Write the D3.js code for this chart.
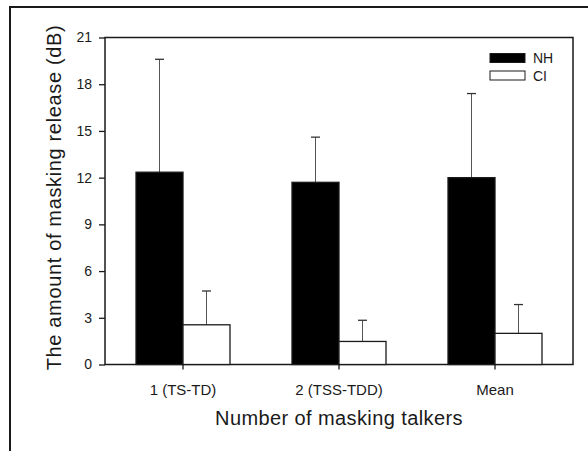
<!DOCTYPE html>
<html>
<head>
<meta charset="utf-8">
<script src="https://cdn.jsdelivr.net/npm/d3@7.9.0/dist/d3.min.js"></script>
<style>
  body { margin: 0; background: #fff; }
  svg { display: block; font-family: Arial, "Liberation Sans", sans-serif; }
</style>
</head>
<body>
<svg width="588" height="451"></svg>
<script>
const categories = ['1 (TS-TD)', '2 (TSS-TDD)', 'Mean'];
const seriesNames = ['NH', 'CI'];
const nhMean = [12.35, 11.7, 12.0];
const nhErr = [19.6, 14.6, 17.4];
const ciMean = [2.55, 1.48, 2.0];
const ciErr = [4.72, 2.84, 3.85];
const yTicks = [0, 3, 6, 9, 12, 15, 18, 21];

const svg = d3.select('svg');
const ink = '#1a1a1a';

// outer frame, cut off at right and bottom like the reference
svg.append('rect')
  .attr('x', 10).attr('y', 7)
  .attr('width', 600).attr('height', 470)
  .attr('fill', 'none').attr('stroke', ink).attr('stroke-width', 2);

const plotL = 105, plotR = 573, plotT = 37.5, plotB = 364.5;

let x = d3.scaleBand().domain(categories).range([plotL, plotR]).padding(0);
let y = d3.scaleLinear().domain([0, 21]).range([plotB, plotT]);
const barW = 47;

// plot box
svg.append('rect')
  .attr('x', plotL).attr('y', plotT)
  .attr('width', plotR - plotL).attr('height', plotB - plotT)
  .attr('fill', 'none').attr('stroke', ink).attr('stroke-width', 1.5);

let series = [
  { name: seriesNames[0], mean: nhMean, err: nhErr, fill: '#000', off: -barW },
  { name: seriesNames[1], mean: ciMean, err: ciErr, fill: '#fff', off: 0 },
];

series.forEach((s) => {
  categories.forEach((c, i) => {
    let cx = x(c) + x.bandwidth() / 2 + s.off;
    let mid = cx + barW / 2;
    // error bar (upper only)
    svg.append('line')
      .attr('x1', mid).attr('x2', mid)
      .attr('y1', y(s.mean[i])).attr('y2', y(s.err[i]))
      .attr('stroke', '#555').attr('stroke-width', 1);
    svg.append('line')
      .attr('x1', mid - 4.5).attr('x2', mid + 4.5)
      .attr('y1', y(s.err[i])).attr('y2', y(s.err[i]))
      .attr('stroke', '#333').attr('stroke-width', 1.3);
    svg.append('rect')
      .attr('x', cx).attr('y', y(s.mean[i]))
      .attr('width', barW).attr('height', y(0) - y(s.mean[i]))
      .attr('fill', s.fill).attr('stroke', ink).attr('stroke-width', 1.3);
  });
});

// y axis
let yAxis = svg.append('g')
  .attr('transform', `translate(${plotL},0)`)
  .call(d3.axisLeft(y).tickValues(yTicks).tickSize(6).tickPadding(7));
yAxis.select('.domain').remove();
yAxis.selectAll('line').attr('stroke', ink).attr('stroke-width', 1.3);
yAxis.selectAll('text').attr('fill', ink).style('font-size', '14px')
  .style('font-family', 'Arial, "Liberation Sans", sans-serif');

// x axis
let xAxis = svg.append('g')
  .attr('transform', `translate(0,${plotB})`)
  .call(d3.axisBottom(x).tickSize(5).tickPadding(15));
xAxis.select('.domain').remove();
xAxis.selectAll('line').attr('stroke', ink).attr('stroke-width', 1.3);
xAxis.selectAll('text').attr('fill', ink).style('font-size', '15px')
  .style('font-family', 'Arial, "Liberation Sans", sans-serif');

// axis titles
svg.append('text')
  .attr('x', 339).attr('y', 424.5)
  .attr('text-anchor', 'middle')
  .attr('fill', ink).style('font-size', '20px')
  .style('letter-spacing', '0.4px')
  .text('Number of masking talkers');

svg.append('text')
  .attr('transform', `translate(61,197.5) rotate(-90)`)
  .attr('text-anchor', 'middle')
  .attr('fill', ink).style('font-size', '20px')
  .style('letter-spacing', '0.65px')
  .text('The amount of masking release (dB)');

// legend
let legend = svg.append('g');
series.forEach((s, i) => {
  let ly = 53.5 + i * 17.5;
  legend.append('rect')
    .attr('x', 490).attr('y', ly)
    .attr('width', 35).attr('height', 9)
    .attr('fill', s.fill).attr('stroke', ink).attr('stroke-width', 1);
  legend.append('text')
    .attr('x', 533).attr('y', ly + 9.5)
    .attr('fill', ink).style('font-size', '14px')
    .text(s.name);
});
</script>
</body>
</html>
